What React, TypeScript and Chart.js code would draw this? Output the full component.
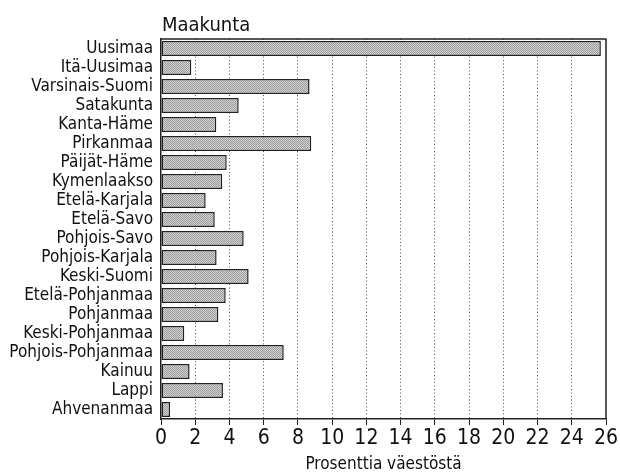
import React, { useEffect, useRef } from "react";
import { Chart, registerables } from "chart.js";

Chart.register(...registerables);

const categories = [
  "Uusimaa", "Itä-Uusimaa", "Varsinais-Suomi", "Satakunta", "Kanta-Häme",
  "Pirkanmaa", "Päijät-Häme", "Kymenlaakso", "Etelä-Karjala", "Etelä-Savo",
  "Pohjois-Savo", "Pohjois-Karjala", "Keski-Suomi", "Etelä-Pohjanmaa", "Pohjanmaa",
  "Keski-Pohjanmaa", "Pohjois-Pohjanmaa", "Kainuu", "Lappi", "Ahvenanmaa",
];
const values = [
  25.7, 1.77, 8.68, 4.54, 3.23,
  8.78, 3.84, 3.58, 2.61, 3.14,
  4.83, 3.25, 5.12, 3.78, 3.35,
  1.36, 7.17, 1.67, 3.62, 0.53,
];
const xMin = 0;
const xMax = 26;
const xStep = 2;
const chartTitle = "Maakunta";
const xTitle = "Prosenttia väestöstä";

const FONT = "'Liberation Sans Narrow', 'DejaVu Sans Condensed', sans-serif";

function makePattern(): CanvasPattern | string {
  const c = document.createElement("canvas");
  c.width = 2;
  c.height = 2;
  const g = c.getContext("2d");
  if (!g) return "#b0b0b0";
  g.fillStyle = "#d2d2d2";
  g.fillRect(0, 0, 2, 2);
  g.fillStyle = "#9c9c9c";
  g.fillRect(0, 0, 1, 1);
  g.fillRect(1, 1, 1, 1);
  const p = g.createPattern(c, "repeat");
  return p || "#b0b0b0";
}

const framePlugin = {
  id: "frame",
  afterDatasetsDraw(chart: any) {
    const { ctx, chartArea } = chart;
    ctx.save();
    ctx.strokeStyle = "#222";
    ctx.lineWidth = 1.5;
    ctx.beginPath();
    ctx.moveTo(chartArea.left, chartArea.top);
    ctx.lineTo(chartArea.right, chartArea.top);
    ctx.lineTo(chartArea.right, chartArea.bottom);
    ctx.stroke();
    ctx.fillStyle = "#111";
    ctx.font = `20px ${FONT}`;
    ctx.textAlign = "left";
    ctx.textBaseline = "alphabetic";
    ctx.fillText(chartTitle, chartArea.left + 1, 31);
    ctx.restore();
  },
};

export default function App() {
  const ref = useRef<HTMLCanvasElement>(null);
  useEffect(() => {
    if (!ref.current) return;
    const pattern = makePattern();
    const chart = new Chart(ref.current, {
      type: "bar",
      data: {
        labels: categories,
        datasets: [
          {
            data: values,
            backgroundColor: pattern as any,
            borderColor: "#222",
            borderWidth: 1.5,
            borderSkipped: false,
            barPercentage: 0.79,
            categoryPercentage: 1,
          },
        ],
      },
      options: {
        indexAxis: "y",
        animation: false,
        responsive: false,
        maintainAspectRatio: false,
        layout: { padding: { top: 39, right: 14, left: 0, bottom: 0 } },
        plugins: {
          legend: { display: false },
          tooltip: { enabled: false },
          title: { display: false },
        },
        scales: {
          x: {
            min: xMin,
            max: xMax,
            ticks: {
              stepSize: xStep,
              color: "#111",
              font: { family: FONT, size: 21 },
              padding: 1,
            },
            grid: {
              color: (c: any) =>
                c.tick && (c.tick.value === xMin || c.tick.value === xMax) ? "rgba(0,0,0,0)" : "#555",
              lineWidth: 1,
              drawTicks: true,
              tickLength: 6,
              tickColor: "#222",
              tickBorderDash: [],
            } as any,
            border: { display: true, color: "#222", width: 1.5, dash: [1, 2.5] } as any,
            title: {
              display: true,
              text: xTitle,
              color: "#111",
              font: { family: FONT, size: 17 },
              padding: { top: 7, bottom: 0 },
            },
            afterFit: (s: any) => {
              s.height = 56;
            },
          },
          y: {
            ticks: {
              color: "#111",
              font: { family: FONT, size: 17 },
              padding: 8,
              autoSkip: false,
            },
            grid: { display: false, drawTicks: false, tickLength: 0 },
            border: { display: true, color: "#222", width: 1.5 },
            afterFit: (s: any) => {
              s.width = 161;
            },
          },
        },
      },
      plugins: [framePlugin],
    });
    return () => chart.destroy();
  }, []);
  return (
    <div style={{ position: "fixed", left: 0, top: 0, width: 620, height: 475, background: "#fff" }}>
      <canvas ref={ref} width={620} height={475} style={{ width: 620, height: 475 }} />
    </div>
  );
}
